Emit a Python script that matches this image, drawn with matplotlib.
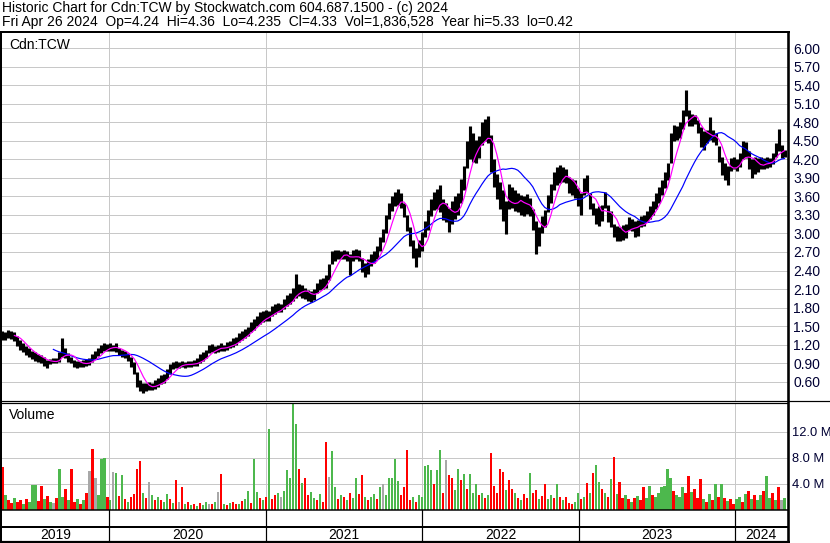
import numpy as np
import pandas as pd
import matplotlib
matplotlib.use("Agg")
import matplotlib.pyplot as plt
from matplotlib.lines import Line2D

plt.rcParams['font.family'] = ['Liberation Sans', 'DejaVu Sans']

# ---------------- data (weekly) ----------------
week_end = "2024-04-26"
n_weeks = 262

week_high = [
    1.42, 1.40, 1.44, 1.42, 1.40, 1.34, 1.28, 1.22, 1.18, 1.14,
    1.10, 1.08, 1.05, 1.03, 1.00, 0.95, 0.97, 0.98, 0.99, 1.08,
    1.30, 1.15, 1.06, 1.00, 0.95, 0.93, 0.94, 0.95, 0.97, 0.98,
    1.04, 1.10, 1.14, 1.19, 1.22, 1.21, 1.22, 1.20, 1.22, 1.15,
    1.12, 1.10, 1.06, 1.00, 0.92, 0.75, 0.62, 0.58, 0.58, 0.60,
    0.58, 0.62, 0.66, 0.70, 0.72, 0.80, 0.88, 0.92, 0.93, 0.92,
    0.93, 0.92, 0.94, 0.93, 0.95, 0.98, 1.04, 1.08, 1.12, 1.20,
    1.21, 1.18, 1.20, 1.22, 1.20, 1.24, 1.26, 1.30, 1.33, 1.38,
    1.42, 1.46, 1.49, 1.56, 1.62, 1.66, 1.72, 1.74, 1.76, 1.74,
    1.82, 1.86, 1.87, 1.86, 1.94, 2.00, 2.03, 2.12, 2.35, 2.18,
    2.16, 2.12, 2.08, 2.06, 2.10, 2.20, 2.26, 2.28, 2.32, 2.50,
    2.72, 2.74, 2.74, 2.72, 2.74, 2.72, 2.66, 2.74, 2.75, 2.74,
    2.60, 2.52, 2.58, 2.66, 2.72, 2.80, 2.94, 3.08, 3.30, 3.50,
    3.60, 3.68, 3.72, 3.66, 3.50, 3.30, 3.10, 2.90, 2.76, 2.90,
    3.02, 3.20, 3.38, 3.56, 3.68, 3.72, 3.78, 3.56, 3.50, 3.42,
    3.52, 3.60, 3.66, 3.88, 4.10, 4.50, 4.74, 4.62, 4.52, 4.58,
    4.80, 4.86, 4.90, 4.60, 4.20, 3.96, 3.84, 3.70, 3.52, 3.80,
    3.76, 3.70, 3.66, 3.62, 3.60, 3.64, 3.58, 3.40, 3.20, 3.10,
    3.28, 3.38, 3.62, 3.80, 4.00, 4.08, 4.11, 4.08, 4.04, 3.92,
    3.88, 3.86, 3.74, 3.66, 3.90, 3.95, 3.66, 3.50, 3.42, 3.44,
    3.46, 3.68, 3.46, 3.36, 3.16, 3.12, 3.10, 3.14, 3.16, 3.26,
    3.24, 3.20, 3.22, 3.28, 3.30, 3.36, 3.44, 3.52, 3.66, 3.76,
    3.86, 4.00, 4.14, 4.62, 4.76, 4.74, 4.80, 5.00, 5.33, 5.00,
    4.94, 4.92, 4.84, 4.72, 4.66, 4.68, 4.89, 4.68, 4.62, 4.42,
    4.24, 4.14, 4.10, 4.22, 4.24, 4.20, 4.30, 4.50, 4.48, 4.34,
    4.20, 4.24, 4.22, 4.24, 4.22, 4.24, 4.22, 4.30, 4.46, 4.70, 4.44, 4.36,
]

week_low = [
    1.28, 1.27, 1.30, 1.29, 1.25, 1.18, 1.12, 1.08, 1.03, 1.00,
    0.96, 0.94, 0.92, 0.90, 0.86, 0.82, 0.88, 0.90, 0.90, 0.92,
    1.00, 0.98, 0.92, 0.90, 0.84, 0.82, 0.83, 0.84, 0.86, 0.87,
    0.92, 0.96, 1.02, 1.07, 1.10, 1.09, 1.10, 1.10, 1.08, 1.03,
    1.00, 0.98, 0.94, 0.84, 0.72, 0.52, 0.44, 0.42, 0.44, 0.46,
    0.46, 0.48, 0.52, 0.56, 0.58, 0.64, 0.72, 0.80, 0.82, 0.82,
    0.83, 0.82, 0.84, 0.83, 0.85, 0.86, 0.90, 0.94, 0.98, 1.06,
    1.08, 1.06, 1.08, 1.10, 1.10, 1.12, 1.14, 1.16, 1.20, 1.24,
    1.28, 1.30, 1.34, 1.40, 1.44, 1.50, 1.54, 1.56, 1.58, 1.58,
    1.66, 1.70, 1.72, 1.72, 1.78, 1.82, 1.86, 1.90, 1.96, 1.98,
    1.96, 1.94, 1.90, 1.89, 1.92, 2.04, 2.08, 2.10, 2.12, 2.24,
    2.50, 2.56, 2.58, 2.58, 2.58, 2.56, 2.33, 2.56, 2.58, 2.56,
    2.38, 2.30, 2.34, 2.48, 2.52, 2.58, 2.72, 2.86, 3.00, 3.24,
    3.36, 3.44, 3.46, 3.42, 3.26, 3.04, 2.80, 2.60, 2.45, 2.62,
    2.72, 2.94, 3.06, 3.28, 3.38, 3.40, 3.34, 3.22, 3.18, 3.02,
    3.16, 3.24, 3.30, 3.50, 3.70, 4.06, 4.20, 4.16, 4.14, 4.22,
    4.44, 4.50, 4.46, 4.00, 3.76, 3.56, 3.40, 3.20, 2.99, 3.40,
    3.42, 3.36, 3.34, 3.30, 3.28, 3.32, 3.28, 3.06, 2.67, 2.80,
    3.00, 3.10, 3.34, 3.50, 3.70, 3.78, 3.82, 3.84, 3.82, 3.66,
    3.62, 3.58, 3.44, 3.30, 3.62, 3.66, 3.40, 3.30, 3.16, 3.12,
    3.20, 3.42, 3.18, 3.10, 2.94, 2.88, 2.87, 2.90, 2.92, 3.06,
    3.04, 2.94, 2.96, 3.10, 3.12, 3.18, 3.24, 3.30, 3.40, 3.50,
    3.62, 3.74, 3.86, 4.14, 4.50, 4.52, 4.54, 4.70, 4.90, 4.74,
    4.74, 4.78, 4.62, 4.40, 4.36, 4.46, 4.52, 4.48, 4.44, 4.16,
    3.94, 3.86, 3.79, 4.02, 4.04, 4.02, 4.08, 4.20, 4.22, 4.04,
    3.90, 3.96, 4.00, 4.04, 4.04, 4.06, 4.08, 4.12, 4.24, 4.34, 4.22, 4.24,
]

volume_m = [
    6.6, 2.2, 1.4, 1.0, 1.8, 1.2, 1.5, 0.9, 1.6, 1.1,
    3.7, 3.7, 1.3, 3.6, 1.6, 2.1, 1.2, 1.0, 1.7, 6.2,
    2.0, 3.2, 1.4, 6.3, 1.1, 1.6, 0.9, 1.4, 2.6, 5.9,
    9.3, 4.9, 2.3, 7.7, 8.0, 2.0, 1.5, 5.8, 5.6, 2.1,
    5.3, 1.6, 1.2, 1.9, 2.4, 6.2, 7.4, 2.6, 1.8, 4.2,
    2.3, 1.4, 2.0, 1.5, 1.1, 2.4, 1.6, 1.0, 4.5, 1.2,
    3.4, 0.8, 1.2, 0.7, 0.9, 0.6, 1.0, 0.7, 1.2, 0.8,
    0.9, 1.1, 2.7, 5.4, 0.9, 0.7, 1.0, 1.1, 0.8, 0.9,
    1.3, 1.6, 2.8, 1.0, 7.7, 2.7, 1.8, 1.4, 2.0, 12.4,
    1.6, 2.2, 2.5, 1.9, 2.8, 6.1, 4.9, 17.5, 13.1, 6.2,
    4.1, 4.9, 2.2, 2.7, 1.8, 1.5, 2.4, 1.2, 10.4, 5.0,
    9.0, 3.5, 1.6, 2.2, 1.9, 1.4, 2.6, 1.8, 4.9, 2.4,
    5.3, 1.9, 1.5, 2.0, 2.4, 1.6, 3.4, 3.9, 2.2, 4.9,
    4.9, 7.7, 4.4, 2.2, 3.5, 9.1, 1.4, 2.0, 1.2, 2.3,
    2.0, 6.7, 6.8, 6.1, 3.9, 6.1, 9.1, 2.5, 7.6, 5.3,
    4.9, 3.0, 6.2, 4.5, 5.4, 3.2, 5.4, 2.6, 3.9, 2.2,
    2.5, 1.8, 2.2, 8.7, 3.6, 2.6, 6.2, 5.8, 3.0, 4.5,
    3.1, 2.6, 1.8, 1.5, 2.4, 1.8, 5.6, 2.6, 3.0, 1.6,
    2.1, 4.0, 1.6, 2.3, 1.8, 3.9, 2.0, 1.5, 1.9, 1.0,
    0.8, 1.1, 2.6, 1.6, 2.0, 4.1, 2.5, 5.6, 6.8, 4.3,
    3.2, 2.6, 2.0, 4.7, 8.1, 2.4, 4.3, 1.7, 2.3, 1.6,
    1.2, 1.8, 2.1, 1.5, 3.4, 1.7, 3.6, 2.3, 1.9, 2.5,
    3.4, 3.6, 6.2, 4.9, 2.8, 2.2, 1.9, 3.4, 2.6, 5.1,
    2.7, 3.2, 1.8, 4.7, 1.6, 1.2, 2.4, 1.4, 3.9, 2.0,
    4.0, 1.8, 1.3, 1.6, 0.8, 1.6, 1.9, 1.2, 2.4, 2.9,
    1.6, 2.3, 1.4, 2.2, 2.9, 5.1, 1.8, 2.6, 1.4, 3.4, 1.5, 1.8,
]

# g = up, r = down, n = unchanged
volume_dir = (
    "rgrrgrrgrg" "ggrrgrgnrg" "grgrrgrgrn" "rngggrgngr" "grgrrrrgrn"
    "grgrggrgrn" "rgrgrgrggn" "rgnrgrgrrg" "rggrggrgrg" "rrgngggggr"
    "grrggrgrrn" "ggrgrgrggr" "rgrggrgngg" "gggrrrrgrg" "ggggrggrnr"
    "rggrgrgggr" "grgrrrrrgr" "rgrgrrgrrg" "rrggrgrgrr" "rggrgrgrgg"
    "rgrgrgrrgr" "grgrrggrgg" "ggggrgggrr" "grrrgrgrgr" "grgrrggrgr"
    "grggrggrgrng"
)

price_ticks = [0.60, 0.90, 1.20, 1.50, 1.80, 2.10, 2.40, 2.70, 3.00, 3.30,
               3.60, 3.90, 4.20, 4.50, 4.80, 5.10, 5.40, 5.70, 6.00]
volume_ticks = [4.0, 8.0, 12.0]
years = [2019, 2020, 2021, 2022, 2023, 2024]

title_line1 = "Historic Chart for Cdn:TCW by Stockwatch.com 604.687.1500 - (c) 2024"
title_line2 = ("Fri Apr 26 2024  Op=4.24  Hi=4.36  Lo=4.235  Cl=4.33  "
               "Vol=1,836,528  Year hi=5.33  lo=0.42")

# ---------------- figure ----------------
W, H = 830, 543
fig = plt.figure(figsize=(W / 100, H / 100), dpi=100)
fig.patch.set_facecolor("white")

FS = 10


def fx(x):
    return x / W


def fy(y):
    return 1 - y / H


def px(p):
    return p * 0.72


dates = pd.date_range(end=week_end, periods=n_weeks, freq="W-FRI")
hi = np.array(week_high)
lo = np.array(week_low)
mid = pd.Series((hi + lo) / 2.0)
ma_short = mid.rolling(5).mean()
ma_long = mid.rolling(18).mean()

x0 = dates[0] - pd.Timedelta(days=1)
x1 = dates[-1] + pd.Timedelta(days=7)
year_starts = [pd.Timestamp(f"{y}-01-01") for y in years[1:]]

grid_c = "#C8C8C8"
lab_c = "#000033"

L, R = 2, 787.5
# price panel
axp = fig.add_axes([fx(L), fy(401), fx(R - L), (401 - 32) / H])
axp.set_xlim(x0, x1)
axp.set_ylim(0.286, 6.264)
for t in price_ticks:
    axp.axhline(t, color=grid_c, lw=px(1), zorder=0)
for ys in year_starts:
    axp.axvline(ys, color=grid_c, lw=px(1), zorder=0)
axp.vlines(dates, lo, hi, color="black", lw=px(3.1), zorder=2)
axp.plot(dates, ma_long, color="#0000FF", lw=px(1.2), zorder=3)
axp.plot(dates, ma_short, color="#FF00FF", lw=px(1.2), zorder=4)
axp.set_yticks(price_ticks)
axp.set_yticklabels([f"{t:.2f}" for t in price_ticks])
axp.yaxis.tick_right()
axp.tick_params(axis="y", length=0, pad=px(5.5), labelsize=FS, labelcolor=lab_c)
axp.set_xticks([])
for s in axp.spines.values():
    s.set_visible(False)
axp.text(0.009, 0.985, "Cdn:TCW", transform=axp.transAxes, fontsize=FS,
         va="top", ha="left", color="#000000")

# volume panel
axv = fig.add_axes([fx(L), fy(509.5), fx(R - L), (509.5 - 403) / H])
axv.set_xlim(x0, x1)
axv.set_ylim(0, 16.4)
for t in volume_ticks:
    axv.axhline(t, color=grid_c, lw=px(1), zorder=0)
for ys in year_starts:
    axv.axvline(ys, color=grid_c, lw=px(1), zorder=0)
cmap = {"g": "#4DB84D", "r": "#FF0000", "n": "#A8A8A8"}
vcols = [cmap[c] for c in volume_dir]
axv.bar(dates, volume_m, width=5.6, color=vcols, linewidth=0, zorder=2)
axv.set_yticks(volume_ticks)
axv.set_yticklabels([f"{t:.1f} M" for t in volume_ticks])
axv.yaxis.tick_right()
axv.tick_params(axis="y", length=0, pad=px(4), labelsize=9.3, labelcolor=lab_c)
axv.set_xticks([])
for s in axv.spines.values():
    s.set_visible(False)
axv.text(0.009, 0.955, "Volume", transform=axv.transAxes, fontsize=FS,
         va="top", ha="left", color="#000000")

# strip and year-label row
axs = fig.add_axes([fx(L), fy(527), fx(R - L), 17 / H])
axy = fig.add_axes([fx(L), fy(541.5), fx(R - L), 14.5 / H])
for a in (axs, axy):
    a.set_xlim(x0, x1)
    a.set_ylim(0, 1)
    a.set_xticks([])
    a.set_yticks([])
    for s in a.spines.values():
        s.set_visible(False)
    for ys in year_starts:
        a.axvline(ys, color="black", lw=px(1.2))
bounds = [dates[0]] + year_starts + [x1]
for i, y in enumerate(years):
    c = bounds[i] + (bounds[i + 1] - bounds[i]) / 2
    axy.text(c, 0.42, str(y), ha="center", va="center", fontsize=FS, color="black")

# frame lines (pixel coordinates)


def hline(y, xa, xb, w):
    fig.add_artist(Line2D([fx(xa), fx(xb)], [fy(y), fy(y)], color="black",
                          lw=px(w), transform=fig.transFigure,
                          solid_capstyle="butt"))


def vline(x, ya, yb, w):
    fig.add_artist(Line2D([fx(x), fx(x)], [fy(ya), fy(yb)], color="black",
                          lw=px(w), transform=fig.transFigure,
                          solid_capstyle="butt"))


hline(31.5, 0, 789.5, 2)
hline(400.5, 0, 830, 1.2)
hline(402.8, 0, 788, 1.2)
hline(509.8, 0, 788, 1.5)
hline(527.2, 0, 788, 2)
hline(541.8, 0, 789.5, 2.2)
vline(1, 30.5, 543, 2)
vline(788.3, 30.5, 543, 2.6)

fig.text(fx(2), fy(12.3), title_line1, fontsize=FS, ha="left", va="baseline")
fig.text(fx(2), fy(26), title_line2, fontsize=FS, ha="left", va="baseline")

fig.savefig("out.png", dpi=100, facecolor="white")
